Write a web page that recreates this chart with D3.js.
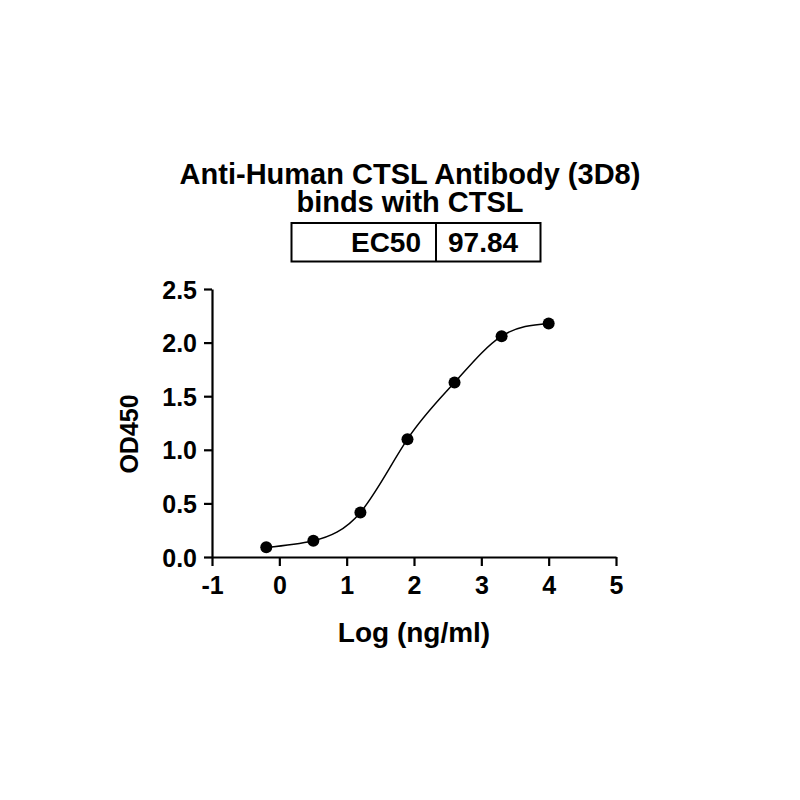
<!DOCTYPE html>
<html><head><meta charset="utf-8">
<script src="https://cdn.jsdelivr.net/npm/d3@7"></script>
<style>body{margin:0;background:#fff}svg{display:block}text{font-family:"Liberation Sans",Arial,sans-serif;font-weight:bold;fill:#000}</style>
</head><body><svg id="c" width="800" height="800"></svg>
<script>
const titleLines = ["Anti-Human CTSL Antibody (3D8)", "binds with CTSL"];
const tableRow = ["EC50", "97.84"];
const logConc = [-0.194, 0.505, 1.204, 1.903, 2.602, 3.301, 4.0];
const od450 = [0.09, 0.152, 0.416, 1.099, 1.627, 2.06, 2.179];
const xTicks = [-1, 0, 1, 2, 3, 4, 5];
const yTicks = [0, 0.5, 1.0, 1.5, 2.0, 2.5];
const xLabel = "Log (ng/ml)";
const yLabel = "OD450";

const svg = d3.select("#c");
svg.append("rect").attr("width",800).attr("height",800).attr("fill","#fff");

const x = d3.scaleLinear().domain([-1,5]).range([212,616]);
const y = d3.scaleLinear().domain([0,2.5]).range([557,289]);

// title (one text element, two lines)
const tt = svg.append("text").attr("text-anchor","middle").style("font-size","29px");
tt.append("tspan").attr("x",410).attr("y",184).text(titleLines[0]);
tt.append("tspan").attr("x",410).attr("y",212).text(titleLines[1]);

// table
const tb = svg.append("g");
tb.append("rect").attr("x",291.5).attr("y",223).attr("width",249).attr("height",38.5).attr("fill","none").attr("stroke","#000").attr("stroke-width",2);
tb.append("line").attr("x1",436).attr("x2",436).attr("y1",223).attr("y2",261.5).attr("stroke","#000").attr("stroke-width",2);
tb.append("text").attr("x",421).attr("y",251.5).attr("text-anchor","end").style("font-size","28px").text(tableRow[0]);
tb.append("text").attr("x",448).attr("y",251.5).attr("text-anchor","start").style("font-size","28px").text(tableRow[1]);

// axes
const xAxis = d3.axisBottom(x).tickValues(xTicks).tickSize(9).tickSizeOuter(0).tickFormat(d=>String(d));
const yAxis = d3.axisLeft(y).tickValues(yTicks).tickSize(8).tickSizeOuter(0).tickFormat(d3.format(".1f"));

const gx = svg.append("g").attr("transform","translate(0,557)").call(xAxis);
const gy = svg.append("g").attr("transform","translate(212,0)").call(yAxis);
[gx,gy].forEach(g=>{
  g.select(".domain").attr("stroke","#000").attr("stroke-width",2.2);
  g.selectAll(".tick line").attr("stroke","#000").attr("stroke-width",2.2);
  g.selectAll(".tick text").attr("font-family",null).style("font-size","25px").attr("fill","#000");
});
gx.selectAll(".tick text").attr("dy","1.1em").attr("y",9);
gy.selectAll(".tick text").attr("x",-15).attr("dy","0.36em");

svg.append("text").attr("x",414).attr("y",642).attr("text-anchor","middle").style("font-size","28px").text(xLabel);
svg.append("text").attr("transform","translate(138,434) rotate(-90)").attr("text-anchor","middle").style("font-size","25px").text(yLabel);

// curve
const pts = logConc.map((v,i)=>[v,od450[i]]);
const line = d3.line().x(d=>x(d[0])).y(d=>y(d[1])).curve(d3.curveNatural);
svg.append("path").datum(pts).attr("d",line).attr("fill","none").attr("stroke","#000").attr("stroke-width",1.5);

svg.append("g").selectAll("circle").data(pts).join("circle")
  .attr("cx",d=>x(d[0])).attr("cy",d=>y(d[1])).attr("r",6).attr("fill","#000");
</script></body></html>
